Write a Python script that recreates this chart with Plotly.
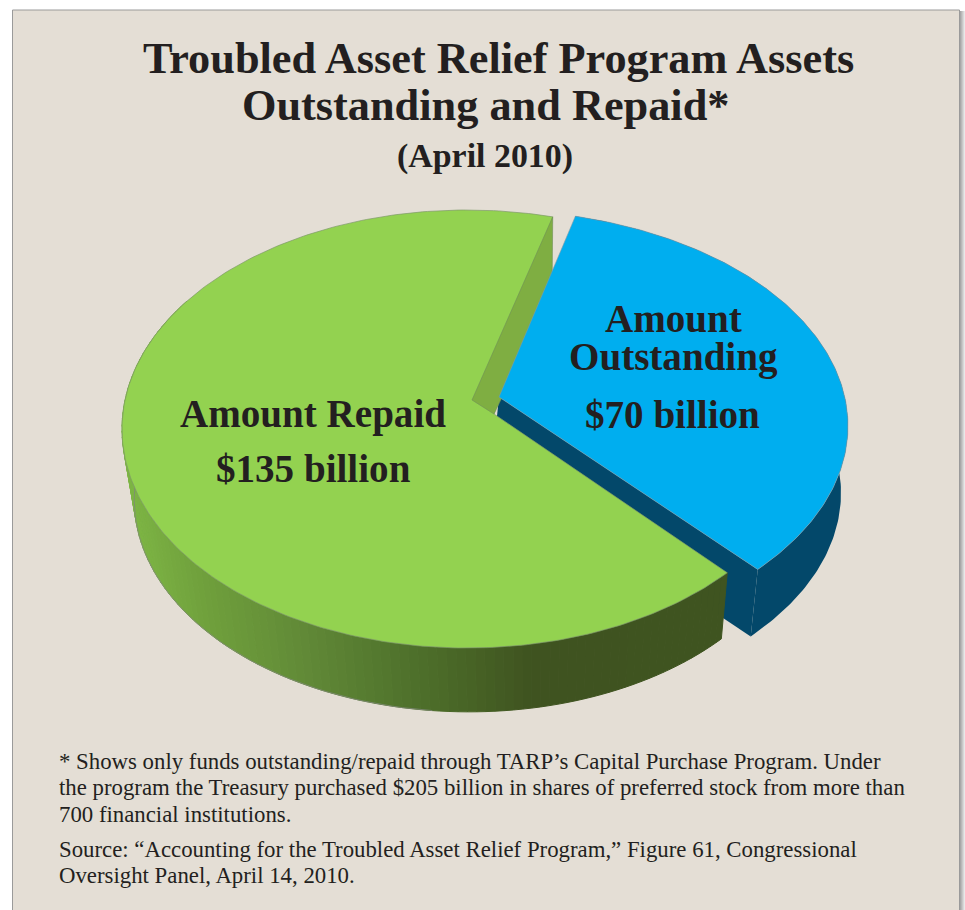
import math
import plotly.graph_objects as go

# Data
categories = ["Amount Repaid", "Amount Outstanding"]
values_billion = [135, 70]
label_lines = [["Amount Repaid"], ["Amount", "Outstanding"]]

title_lines = ["Troubled Asset Relief Program Assets", "Outstanding and Repaid*", "(April 2010)"]
note_lines = [
    "* Shows only funds outstanding/repaid through TARP\u2019s Capital Purchase Program. Under",
    "the program the Treasury purchased $205 billion in shares of preferred stock from more than",
    "700 financial institutions.",
    "Source: \u201cAccounting for the Troubled Asset Relief Program,\u201d Figure 61, Congressional",
    "Oversight Panel, April 14, 2010.",
]

# Drawing parameters for the tilted, exploded pie
W, H = 965, 910
SERIF = "Liberation Serif"
INK = "#231F20"
CARD = "#E4DED5"
views = {
    "Amount Repaid": dict(c=(467.0, 429.0), r=(345.0, 219.0), apex=(494.0, 414.0), start=137.0,
                          squash=0.9858, top="#93D250", depth=(15.9, 83.3, 0.97)),
    "Amount Outstanding": dict(c=(490.0, 426.0), r=(358.0, 216.0), apex=(499.0, 397.0), start=14.3,
                               squash=1.005, top="#00AEEF", depth=(-7.0, 67.0, 1.0)),
}
# Gradient along the rim of the larger slice, by horizontal position
RIM_STOPS = [(125, "#7DB544"), (200, "#70A03C"), (300, "#618A37"), (400, "#50732C"),
             (470, "#476325"), (530, "#3F5320"), (730, "#3F5420")]


def sweep(v, value):
    return 360.0 * v["squash"] * value / sum(values_billion)


def rim_point(v, deg):
    """Where the ray leaving the slice apex at this bearing meets the slice's ellipse."""
    th = math.radians(deg)
    dx, dy = math.sin(th), math.cos(th)
    px = (v["apex"][0] - v["c"][0]) / v["r"][0]
    py = (v["c"][1] - v["apex"][1]) / v["r"][1]
    b = px * dx + py * dy
    t = -b + math.sqrt(b * b - (px * px + py * py - 1.0))
    return v["c"][0] + (px + t * dx) * v["r"][0], v["c"][1] - (py + t * dy) * v["r"][1]


def drop(v, pt):
    """Same point on the underside of the disc."""
    ox, oy, s = v["depth"]
    return ox + s * pt[0], oy + s * pt[1]


def arc(v, a0, a1, n=160):
    return [rim_point(v, a0 + (a1 - a0) * i / n) for i in range(n + 1)]


def mix(x):
    def rgb(h):
        return [int(h[i:i + 2], 16) for i in (1, 3, 5)]
    if x <= RIM_STOPS[0][0]:
        return RIM_STOPS[0][1]
    for (x0, c0), (x1, c1) in zip(RIM_STOPS, RIM_STOPS[1:]):
        if x <= x1:
            f = (x - x0) / (x1 - x0)
            return "#%02X%02X%02X" % tuple(round(a + (b - a) * f) for a, b in zip(rgb(c0), rgb(c1)))
    return RIM_STOPS[-1][1]


fig = go.Figure()


def poly(points, fill, line=None, width=0.0, name=None):
    fig.add_trace(go.Scatter(
        x=[p[0] for p in points] + [points[0][0]],
        y=[p[1] for p in points] + [points[0][1]],
        mode="lines", fill="toself", fillcolor=fill,
        line=dict(color=line or fill, width=width),
        hoverinfo="skip" if name is None else "name", name=name or "", showlegend=False,
    ))


green = views["Amount Repaid"]
blue = views["Amount Outstanding"]
g0 = green["start"]
g1 = g0 + sweep(green, values_billion[0])
b0 = blue["start"]
b1 = b0 + sweep(blue, values_billion[1])

# Outstanding slice: underside walls go first, everything else overlaps them
blue_arc = arc(blue, b0, b1)
poly(blue_arc + [drop(blue, p) for p in reversed(blue_arc)], "#03486A")
blue_tip = rim_point(blue, b1)
poly([blue["apex"], blue_tip, drop(blue, blue_tip), drop(blue, blue["apex"])], "#03486A")

# Repaid slice: graded outer wall built from short quads
green_arc = arc(green, g0, min(g1, 300.0), n=110)
for p, q in zip(green_arc, green_arc[1:]):
    poly([p, q, drop(green, q), drop(green, p)], mix((p[0] + q[0]) / 2), width=1.0)
green_low = [drop(green, p) for p in arc(green, 190.0, 285.0, n=60)]
fig.add_trace(go.Scatter(x=[p[0] for p in green_low], y=[p[1] for p in green_low], mode="lines",
                         line=dict(color="#808878", width=0.8), hoverinfo="skip", showlegend=False))

# Top faces and the visible cut wall of the repaid slice
green_top = arc(green, g0, g1, n=260)
poly([green["apex"]] + green_top, green["top"], line="#7E9A68", width=0.7, name=categories[0])
cut_tip = green_top[-1]
cut_wall = [cut_tip, drop(green, cut_tip), green["apex"],
            (green["apex"][0] - 22.0, green["apex"][1] - 14.0)]
poly(cut_wall, "#7FAE42", line="#6F8F58", width=0.6)
poly([blue["apex"]] + blue_arc, blue["top"], line="#7F9AA8", width=0.6, name=categories[1])

annotations = []


def text(x, y, s, size, bold=False, anchor="center"):
    annotations.append(dict(
        x=x, y=y, xref="x", yref="y", text=f"<b>{s}</b>" if bold else s, showarrow=False,
        xanchor=anchor, yanchor="middle", font=dict(family=SERIF, size=size, color=INK),
    ))


text(498, 58, title_lines[0], 44.3, bold=True)
text(485, 105, title_lines[1], 44.3, bold=True)
text(485, 156, title_lines[2], 33.9, bold=True)

text(313, 414, label_lines[0][0], 39.1, bold=True)
text(313, 468, f"${values_billion[0]} billion", 39.1, bold=True)
text(673, 318, label_lines[1][0], 39.1, bold=True)
text(673, 357, label_lines[1][1], 39.1, bold=True)
text(672, 414, f"${values_billion[1]} billion", 39.1, bold=True)

for y, line in zip([761, 787, 814, 849, 875], note_lines):
    text(57, y, line, 22.8, anchor="left")

# Card behind the chart, with its thin edge and soft shadow on the right
shapes = [dict(type="rect", xref="x", yref="y", x0=12.5, y0=10, x1=959.5, y1=912,
               fillcolor=CARD, line=dict(color="#9A9A9A", width=1), layer="below")]
for x0, shade in zip(range(960, 965), ["#A8A8A8", "#B8B8B8", "#C8C8C8", "#D8D8D8", "#E8E8E8"]):
    shapes.append(dict(type="rect", xref="x", yref="y", x0=x0, x1=x0 + 1, y0=11, y1=912,
                       fillcolor=shade, line=dict(width=0), layer="below"))

fig.update_layout(
    width=W, height=H, margin=dict(l=0, r=0, t=0, b=0), autosize=False,
    paper_bgcolor="#FFFFFF", plot_bgcolor="#FFFFFF", showlegend=False,
    xaxis=dict(range=[0, W], visible=False, fixedrange=True),
    yaxis=dict(range=[H, 0], visible=False, fixedrange=True),
    annotations=annotations, shapes=shapes,
)
fig.write_html("out.html", config={"displayModeBar": False})
